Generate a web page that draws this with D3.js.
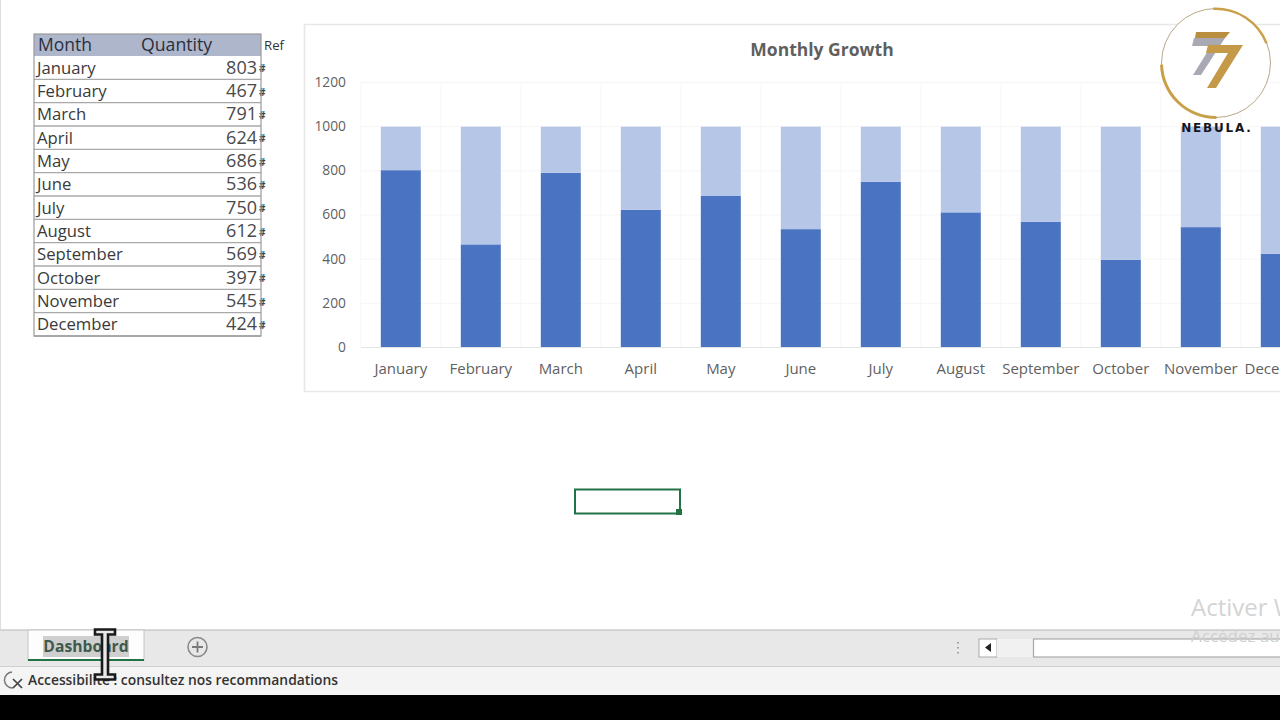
<!DOCTYPE html>
<html><head><meta charset="utf-8">
<script src="https://cdn.jsdelivr.net/npm/d3@7/dist/d3.min.js"></script>
<style>html,body{margin:0;padding:0;background:#fff;overflow:hidden}svg{display:block}text{font-family:"Open Sans","Noto Sans",sans-serif}</style>
</head><body><svg id="c" width="1280" height="720"></svg>
<script>
const months=["January","February","March","April","May","June","July","August","September","October","November","December"];
const quantity=[803,467,791,624,686,536,750,612,569,397,545,424];
const remainder=[197,533,209,376,314,464,250,388,431,603,455,576];
const yTicks=[0,200,400,600,800,1000,1200];
const chartTitle="Monthly Growth";
const tableHeader=["Month","Quantity"];

const svg=d3.select("#c");
const FONT_GREY="#5f5f5f";
svg.append("rect").attr("width",1280).attr("height",720).attr("fill","#fff");

// ---- table
const rowY=d3.scaleBand().domain(months).range([56,336]);
const tbl=svg.append("g");
tbl.append("rect").attr("x",34).attr("y",34).attr("width",227).attr("height",22).attr("fill","#aeb6cc");
tbl.append("text").attr("x",38).attr("y",51).attr("font-size",17.5).attr("fill","#2a2f3d").text(tableHeader[0]);
tbl.append("text").attr("x",141).attr("y",51).attr("font-size",17.7).attr("fill","#2a2f3d").text(tableHeader[1]);
tbl.append("text").attr("x",264).attr("y",50).attr("font-size",13.2).attr("fill","#333").text("Ref");
months.forEach((m,i)=>{
  const yy=rowY(m),b=rowY.bandwidth();
  tbl.append("line").attr("x1",34).attr("x2",261).attr("y1",yy+b).attr("y2",yy+b).attr("stroke","#a9a9a9").attr("stroke-width",1.4);
  tbl.append("text").attr("x",37).attr("y",yy+b-5.6).attr("font-size",16.7).attr("fill","#3a3a3a").text(m);
  tbl.append("text").attr("x",257).attr("y",yy+b-5.6).attr("text-anchor","end").attr("font-size",18).attr("fill","#4a4a4a").text(quantity[i]);
  tbl.append("text").attr("x",259).attr("y",yy+b-7).attr("font-size",10).attr("font-weight",700).attr("fill","#444").text("#");
});
tbl.append("rect").attr("x",34).attr("y",34).attr("width",227).attr("height",302).attr("fill","none").attr("stroke","#9a9a9a").attr("stroke-width",1.2);

// ---- chart frame
svg.append("rect").attr("x",304.5).attr("y",24.5).attr("width",1000).attr("height",367).attr("fill","#fff").attr("stroke","#e8e8e8").attr("stroke-width",1.5);
svg.append("text").attr("x",822).attr("y",56).attr("text-anchor","middle").attr("font-size",17.5).attr("font-weight",700).attr("fill",FONT_GREY).text(chartTitle);

const x=d3.scaleBand().domain(months).range([360.8,1320.8]).paddingInner(0.5).paddingOuter(0.25);
const y=d3.scaleLinear().domain([0,1200]).range([347.5,82.5]);

// gridlines
const grid=svg.append("g");
grid.selectAll("line.h").data(yTicks).join("line").attr("class","h")
  .attr("x1",361).attr("x2",1321).attr("y1",d=>y(d)).attr("y2",d=>y(d))
  .attr("stroke","#f6f6f6");
grid.selectAll("line.v").data(months).join("line").attr("class","v")
  .attr("x1",d=>x(d)-20).attr("x2",d=>x(d)-20).attr("y1",82).attr("y2",347)
  .attr("stroke","#f8f8f8");

// stacked bars
const stackRows=months.map((m,i)=>({month:m,quantity:quantity[i],remainder:remainder[i]}));
const stack=d3.stack().keys(["quantity","remainder"])(stackRows);
const colors={quantity:"#4a73c2",remainder:"#b5c6e6"};
svg.append("g").selectAll("g").data(stack).join("g").attr("fill",d=>colors[d.key])
  .selectAll("rect").data(d=>d).join("rect")
  .attr("x",d=>x(d.data.month)).attr("width",x.bandwidth())
  .attr("y",d=>y(d[1])).attr("height",d=>y(d[0])-y(d[1]));

// axes
const ax=svg.append("g").attr("transform","translate(0,347)").call(d3.axisBottom(x).tickSize(0).tickPadding(14));
ax.select(".domain").attr("stroke","#e3e3e3");
ax.selectAll("text").attr("font-size",15).attr("dy","0.88em").attr("fill",FONT_GREY).style("font-family",'"Open Sans",sans-serif');
const ay=svg.append("g").attr("transform","translate(361,-0.5)").call(d3.axisLeft(y).tickValues(yTicks).tickSize(0).tickPadding(15).tickFormat(d3.format("d")));
ay.select(".domain").remove();
ay.selectAll("text").attr("font-size",13.8).attr("fill",FONT_GREY).style("font-family",'"Open Sans",sans-serif');

// ---- logo
const logo=svg.append("g");
logo.append("circle").attr("cx",1216).attr("cy",63).attr("r",54.5).attr("fill","#fff").attr("stroke","#b8a888").attr("stroke-width",1);
const arc=d3.arc();
logo.append("path").attr("transform","translate(1216,63)").attr("fill","#c9a04a")
  .attr("d",arc({innerRadius:53,outerRadius:56,startAngle:-1.6,endAngle:-3.15}));
logo.append("path").attr("transform","translate(1216,63)").attr("fill","#c9a04a")
  .attr("d",arc({innerRadius:53,outerRadius:55.5,startAngle:-0.05,endAngle:1.2}));
logo.append("path").attr("fill","#b98f3f").attr("d","M1196 32h34l-5 6h-30z");
logo.append("path").attr("fill","#a9a9b4").attr("d","M1194 38h31l-24 37h-8l18-29h-19z");
logo.append("path").attr("fill","#c49a48").attr("d","M1208 45h35l-27 43h-9l21-35h-22z");
logo.append("text").attr("x",1217).attr("y",132).attr("text-anchor","middle").attr("font-size",12).attr("font-weight",800)
  .attr("letter-spacing",1.8).attr("fill","#16161e").style("font-family","'DejaVu Sans',sans-serif").text("NEBULA.");

// ---- selected cell
svg.append("rect").attr("x",575).attr("y",489.5).attr("width",105).attr("height",24).attr("fill","#fff").attr("stroke","#217346").attr("stroke-width",2);
svg.append("rect").attr("x",676).attr("y",509).attr("width",6).attr("height",6).attr("fill","#217346");

// ---- watermark (large line, above sheet bar)
svg.append("text").attr("x",1191).attr("y",616).attr("font-size",24).attr("fill","#d4d4d4").text("Activer Windows");

// ---- sheet bar
svg.append("rect").attr("x",0).attr("y",630).attr("width",1280).attr("height",37).attr("fill","#e8e8e8");
svg.append("line").attr("x1",0).attr("x2",1280).attr("y1",630).attr("y2",630).attr("stroke","#b5b5b5").attr("stroke-width",1.2);
svg.append("rect").attr("x",28).attr("y",630).attr("width",116).attr("height",30).attr("fill","#fdfdfd").attr("stroke","#c4c4c4");
svg.append("rect").attr("x",28).attr("y",659).attr("width",116).attr("height",2).attr("fill","#217346");
svg.append("rect").attr("x",43).attr("y",636).attr("width",86).attr("height",21).attr("fill","#cfcfcf");
svg.append("text").attr("x",86).attr("y",652).attr("text-anchor","middle").attr("font-size",15.7).attr("font-weight",700).attr("fill","#3f5a4c").text("Dashboard");
svg.append("circle").attr("cx",197.5).attr("cy",647).attr("r",9.5).attr("fill","none").attr("stroke","#8a8a8a").attr("stroke-width",1.6);
svg.append("path").attr("d","M192 647h11M197.5 641.5v11").attr("stroke","#7a7a7a").attr("stroke-width",1.8);
svg.append("path").attr("d","M958 642v1.5M958 647v1.5M958 652v1.5").attr("stroke","#999").attr("stroke-width",1.8);
svg.append("rect").attr("x",979).attr("y",639).attr("width",18).attr("height",18).attr("fill","#fff").attr("stroke","#a8a8a8");
svg.append("path").attr("d","M991 643v9l-6-4.5z").attr("fill","#222");
svg.append("rect").attr("x",997).attr("y",639).attr("width",36).attr("height",18).attr("fill","#f1f1f1");
svg.append("rect").attr("x",1033.5).attr("y",639).attr("width",260).attr("height",18).attr("fill","#fff").attr("stroke","#a8a8a8").attr("stroke-width",1.2);
svg.append("text").attr("x",1191).attr("y",642).attr("font-size",17).attr("fill","#d0d0d0").text("Accédez aux paramètres");

// ---- status bar
svg.append("rect").attr("x",0).attr("y",667).attr("width",1280).attr("height",28).attr("fill","#f4f4f4");
svg.append("line").attr("x1",0).attr("x2",1280).attr("y1",666.5).attr("y2",666.5).attr("stroke","#d0d0d0");
svg.append("text").attr("x",28).attr("y",684.5).attr("font-size",13.85).attr("font-weight",600).attr("fill","#333").text("Accessibilité : consultez nos recommandations");
svg.append("path").attr("d","M12 672a8 8 0 1 0 1 16").attr("fill","none").attr("stroke","#777").attr("stroke-width",1.5);
svg.append("path").attr("d","M13 679l9 9M22 679l-9 9").attr("stroke","#444").attr("stroke-width",1.7);
svg.append("rect").attr("x",0).attr("y",695).attr("width",1280).attr("height",25).attr("fill","#000");
svg.append("rect").attr("x",0).attr("y",0).attr("width",1).attr("height",630).attr("fill","#ddd");

// ---- cursor
svg.append("path").attr("d","M95 629.5h20v5h-7v40h7v5h-20v-5h7v-40h-7z").attr("fill","#e8e8e8").attr("stroke","#1a1a1a").attr("stroke-width",2.6);
</script></body></html>
